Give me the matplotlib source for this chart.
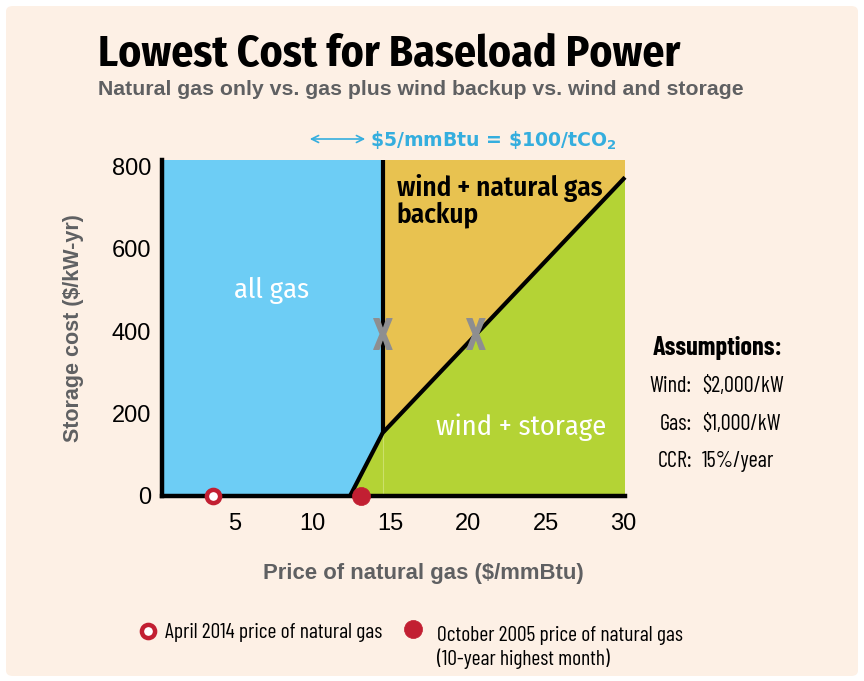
import matplotlib
matplotlib.use('Agg')
import matplotlib.pyplot as plt
from matplotlib.patches import FancyBboxPatch, Polygon, FancyArrowPatch

# data
x_min, x_max = 0.3, 30.1
y_min, y_max = 0, 815
x_ticks = [5, 10, 15, 20, 25, 30]
y_ticks = [0, 200, 400, 600, 800]
boundary_x = 14.5                      # gas / wind+gas-backup divide
frontier_x = [12.4, 14.5, 30.1]        # wind+storage frontier
frontier_y = [0, 153, 773]
x_marks_x = [14.5, 20.5]
x_marks_y = [383, 383]
april_2014_price = 3.6
october_2005_price = 13.1

region_labels = ['all gas', 'wind + natural gas\nbackup', 'wind + storage']
assumption_keys = ['Wind:', 'Gas:', 'CCR:']
assumption_vals = ['$2,000/kW', '$1,000/kW', '15%/year']

cond_bold = 'Fira Sans Condensed'
cond = 'Barlow Condensed'
wide = 'Liberation Sans'

peach = '#fdf0e5'
blue = '#6dcdf5'
gold = '#e8c250'
green = '#b4d335'
red = '#c21f32'
grey_text = '#5f6062'
cyan_text = '#35aede'

W, H = 864, 681
fig = plt.figure(figsize=(8.64, 6.81), dpi=100, facecolor='white')

def px(x, y):
    return x / W, 1 - y / H

bg = FancyBboxPatch(px(6, 676), (852) / W, (670) / H,
                    boxstyle='round,pad=0,rounding_size=0.008',
                    transform=fig.transFigure, facecolor=peach, edgecolor='none', zorder=-5)
fig.patches.append(bg)

left, right, top, bottom = 162, 625, 160, 496
ax = fig.add_axes([left / W, 1 - bottom / H, (right - left) / W, (bottom - top) / H])
ax.set_facecolor('none')
ax.set_xlim(x_min, x_max)
ax.set_ylim(y_min, y_max)

# regions
ax.add_patch(Polygon([(x_min, 0), (frontier_x[0], 0), (frontier_x[1], frontier_y[1]),
                      (boundary_x, y_max), (x_min, y_max)], closed=True,
                     facecolor=blue, edgecolor='none', zorder=1))
ax.add_patch(Polygon([(frontier_x[1], frontier_y[1]), (frontier_x[2], frontier_y[2]),
                      (x_max, y_max), (boundary_x, y_max)], closed=True,
                     facecolor=gold, edgecolor='none', zorder=1))
ax.add_patch(Polygon([(frontier_x[0], 0), (x_max, 0), (frontier_x[2], frontier_y[2]),
                      (frontier_x[1], frontier_y[1])], closed=True,
                     facecolor=green, edgecolor='none', zorder=1))
ax.plot([boundary_x, boundary_x], [0, frontier_y[1]], color='#cbe06a', lw=0.8, zorder=2)

# boundaries
ax.plot([boundary_x, boundary_x], [frontier_y[1], y_max], color='black', lw=3,
        solid_capstyle='butt', zorder=3)
ax.plot(frontier_x, frontier_y, color='black', lw=3, solid_capstyle='butt',
        solid_joinstyle='miter', zorder=3, clip_on=False)

for xm, ym in zip(x_marks_x, x_marks_y):
    ax.text(xm, ym, 'X', family=cond, weight='bold', fontsize=33, color='#8e8e90',
            ha='center', va='center', zorder=4)

ax.plot([april_2014_price], [0], 'o', ms=9.5, mfc='white', mec=red, mew=3.2,
        zorder=6, clip_on=False)
ax.plot([october_2005_price], [0], 'o', ms=13, mfc=red, mec=red, mew=0.5,
        zorder=6, clip_on=False)

ax.text(7.37, 499, region_labels[0], family=cond_bold, fontsize=20.5, color='white',
        ha='center', va='center', zorder=4)
ax.text(15.4, 664, region_labels[1], family=cond_bold, weight='semibold', fontsize=19.5,
        color='black', ha='left', va='baseline', linespacing=0.95, zorder=4)
ax.text(23.4, 167, region_labels[2], family=cond_bold, fontsize=20.5, color='white',
        ha='center', va='center', zorder=4)

# axes styling
for s in ['top', 'right']:
    ax.spines[s].set_visible(False)
for s in ['left', 'bottom']:
    ax.spines[s].set_linewidth(3.2)
    ax.spines[s].set_zorder(5)
    ax.spines[s].set_capstyle('projecting')
ax.set_xticks(x_ticks)
ax.set_yticks(y_ticks)
ax.tick_params(length=0, labelsize=17, pad=12.5)
ax.tick_params(axis='y', pad=8)
for lbl in ax.get_xticklabels() + ax.get_yticklabels():
    lbl.set_family(wide)

ax.set_xlabel('Price of natural gas ($/mmBtu)', family=wide, weight='bold',
              fontsize=15.9, color=grey_text, labelpad=18)
ax.xaxis.set_label_coords(0.564, -0.2)
ax.set_ylabel('Storage cost ($/kW-yr)', family=wide, weight='bold',
              fontsize=15.5, color=grey_text, labelpad=20)

# titles
fig.text(*px(98, 66), 'Lowest Cost for Baseload Power', family=cond_bold, weight='bold',
         fontsize=31.3, color='black', ha='left', va='baseline')
fig.text(*px(98, 95), 'Natural gas only vs. gas plus wind backup vs. wind and storage',
         family=wide, weight='bold', fontsize=15.3, color=grey_text, ha='left', va='baseline')

# conversion note
fig.text(*px(370, 147), r'\$5/mmBtu = \$100/tCO$_\mathregular{2}$', family='DejaVu Sans',
         weight='bold', fontsize=13.6, color=cyan_text, ha='left', va='baseline')
fig.add_artist(FancyArrowPatch(px(307, 139), px(368, 139),
               transform=fig.transFigure, arrowstyle='<->,head_length=5,head_width=2.5',
               color=cyan_text, lw=1.2, mutation_scale=1))

# assumptions
fig.text(*px(653, 355), 'Assumptions:', family=cond, weight='bold', fontsize=18.8,
         color='black', ha='left', va='baseline')
for i, (k, v) in enumerate(zip(assumption_keys, assumption_vals)):
    yb = 392 + i * 37.5
    fig.text(*px(692, yb), k, family=cond, fontsize=16, color='black',
             ha='right', va='baseline')
    fig.text(*px(702, yb), v, family=cond, fontsize=16, color='black',
             ha='left', va='baseline')

# legend
lay = fig.add_axes([0, 0, 1, 1], facecolor='none')
lay.set_xlim(0, W)
lay.set_ylim(H, 0)
lay.axis('off')
lay.plot([148], [631], 'o', ms=9.5, mfc='white', mec=red, mew=3.2)
lay.plot([413], [629], 'o', ms=13, mfc=red, mec=red, mew=0.5)
lay.text(165, 638, 'April 2014 price of natural gas', family=cond, fontsize=15.5,
         color='black', ha='left', va='baseline')
lay.text(437, 665, 'October 2005 price of natural gas\n(10-year highest month)',
         family=cond, fontsize=15.5, color='black', ha='left', va='baseline',
         linespacing=1.2)

fig.savefig('out.png', dpi=100, facecolor='white')
